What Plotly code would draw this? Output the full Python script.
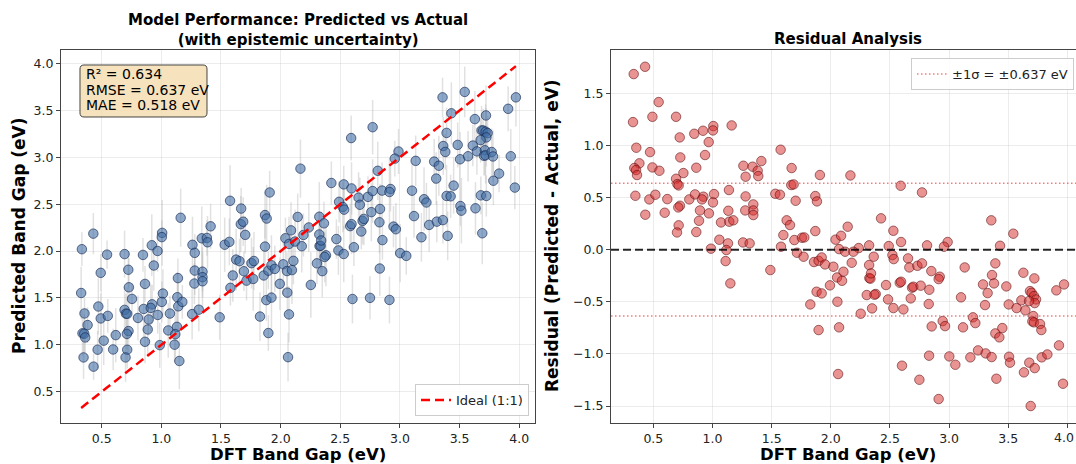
import plotly.graph_objects as go

# ---------------- data ----------------
dft_gap = [
    0.334, 0.430, 0.545, 0.328, 0.492, 0.692, 0.356, 0.472, 0.382, 0.339,
    0.354, 0.362, 0.492, 0.551, 0.348, 0.466, 0.517, 0.432, 0.618, 0.596,
    0.723, 0.728, 0.754, 0.692, 0.703, 0.714, 0.725, 0.711, 0.714, 0.700,
    0.804, 0.846, 0.920, 0.968, 0.937, 0.863, 0.852, 0.923, 0.911, 0.894,
    0.886, 0.863, 0.970, 1.007, 1.004, 1.013, 1.004, 1.058, 0.987, 1.072,
    1.162, 1.139, 1.134, 1.142, 1.176, 1.131, 1.261, 1.280, 1.280, 1.277,
    1.339, 1.382, 1.387, 1.413, 1.345, 1.345, 1.345, 1.258, 1.314, 1.531,
    1.570, 1.576, 1.669, 1.666, 1.686, 1.703, 1.627, 1.655, 1.599, 1.692,
    1.756, 1.776, 1.579, 1.869, 1.883, 1.908, 1.869, 2.040, 1.117, 1.111,
    1.151, 1.489, 1.714, 1.770, 1.858, 1.897, 1.923, 1.951, 1.993, 1.880,
    1.923, 1.827, 1.897, 2.166, 2.591, 2.771, 3.357, 3.543, 3.431, 2.425,
    2.143, 2.087, 2.529, 2.594, 2.324, 2.490, 2.236, 2.814, 2.988, 2.957,
    2.070, 2.121, 2.191, 2.521, 2.532, 2.022, 2.107, 2.177, 2.053, 2.095,
    2.056, 2.070, 2.062, 2.304, 2.380, 2.369, 2.326, 2.335, 2.324, 2.340,
    2.363, 2.349, 2.253, 2.467, 2.484, 2.529, 2.583, 2.594, 2.614, 2.653,
    2.664, 2.732, 2.771, 2.687, 2.698, 2.676, 2.760, 2.602, 2.749, 2.850,
    2.833, 2.828, 2.853, 2.831, 2.921, 2.912, 2.946, 2.966, 2.912, 3.002,
    3.053, 3.132, 3.101, 3.118, 3.180, 3.202, 3.222, 3.245, 3.287, 3.326,
    3.304, 3.309, 3.360, 3.363, 3.380, 3.391, 3.391, 3.425, 3.450, 3.400,
    3.484, 3.504, 3.507, 3.515, 3.571, 3.611, 3.628, 3.645, 3.633, 3.678,
    3.721, 3.684, 3.698, 3.718, 3.735, 3.724, 3.676, 3.712, 3.704, 3.718,
    3.769, 3.780, 3.724, 3.690, 3.783, 3.831, 3.929, 3.907, 3.972, 3.963,
]

residual = [
    1.686, 1.756, 1.417, 1.225, 1.276, 1.276, 0.979, 0.937, 0.829, 0.784,
    0.765, 0.717, 0.790, 0.758, 0.518, 0.483, 0.528, 0.336, 0.486, 0.355,
    1.078, 0.886, 0.736, 0.681, 0.630, 0.617, 0.422, 0.406, 0.234, 0.166,
    0.483, 1.113, 1.142, 1.033, 0.909, 0.787, 0.531, 0.509, 0.483, 0.377,
    0.278, 0.170, 0.349, 1.187, 1.145, 0.534, 0.454, 0.096, 0.010, 0.262,
    1.193, 0.573, 0.374, 0.269, 0.282, 0.061, 0.806, 0.701, 0.512, 0.377,
    0.797, 0.758, 0.707, 0.851, 0.435, 0.377, 0.333, 0.070, 0.061, 0.537,
    0.528, 0.960, 0.784, 0.621, 0.627, 0.470, 0.282, 0.237, 0.141, 0.093,
    0.115, 0.118, 0.029, 0.515, 0.464, 0.717, 0.179, 0.097, -0.003, -0.109,
    -0.323, -0.195, -0.029, -0.067, -0.118, -0.106, -0.074, -0.141, -0.342, -0.403,
    -0.419, -0.525, -0.771, 0.713, 0.614, 0.550, 0.282, 0.154, 0.038, 0.301,
    0.221, 0.134, 0.182, 0.074, 0.042, 0.035, 0.016, 0.042, 0.074, 0.029,
    0.006, -0.019, -0.019, -0.051, -0.090, -0.163, -0.211, -0.125, -0.266, -0.298,
    -0.499, -0.745, -1.193, -0.435, -0.425, -0.432, -0.272, -0.278, -0.147, -0.227,
    -0.067, -0.563, -0.614, -0.339, -0.477, -0.560, -0.317, -0.307, -0.573, -0.083,
    -0.170, -0.154, -0.131, -0.365, -0.355, -0.467, -0.345, -1.113, -1.248, -0.205,
    -0.384, -0.521, -0.736, -1.017, -0.259, -0.282, -0.685, -0.733, -1.433, -1.024,
    -1.104, -0.170, -0.457, -0.745, -1.033, -0.649, -0.704, -0.966, -0.333, -0.416,
    -0.531, -0.995, -1.030, -0.243, -0.323, -0.131, -0.803, -0.841, -0.752, -1.238,
    -0.352, -0.525, -1.027, -1.084, -0.560, -0.486, -0.221, -0.582, -1.177, -1.084,
    -0.275, -0.397, -0.413, -0.445, -0.477, -0.512, -0.493, -0.637, -0.688, -0.697,
    -0.713, -0.771, -1.136, -1.500, -1.033, -1.005, -0.918, -0.390, -0.333, -1.286,
]

uncertainty = [
    0.18, 0.22, 0.15, 0.28, 0.20, 0.25, 0.17, 0.30, 0.19, 0.24,
    0.21, 0.16, 0.27, 0.18, 0.23, 0.20, 0.26, 0.14, 0.29, 0.22,
    0.19, 0.31, 0.17, 0.25, 0.21, 0.28, 0.23, 0.16, 0.20, 0.26,
    0.24, 0.18, 0.33, 0.22, 0.27, 0.19, 0.30, 0.21, 0.25, 0.17,
    0.28, 0.23, 0.20, 0.35, 0.18, 0.26, 0.22, 0.29, 0.24, 0.19,
    0.31, 0.21, 0.27, 0.25, 0.18, 0.23, 0.30, 0.20, 0.26, 0.22,
    0.34, 0.19, 0.28, 0.24, 0.21, 0.32, 0.17, 0.27, 0.23, 0.29,
    0.25, 0.38, 0.22, 0.30, 0.26, 0.20, 0.33, 0.24, 0.28, 0.21,
    0.27, 0.31, 0.19, 0.25, 0.36, 0.23, 0.29, 0.22, 0.26, 0.18,
    0.30, 0.24, 0.21, 0.34, 0.27, 0.20, 0.32, 0.25, 0.28, 0.22,
    0.35, 0.26, 0.19, 0.31, 0.24, 0.29, 0.21, 0.27, 0.33, 0.23,
    0.25, 0.30, 0.20, 0.28, 0.37, 0.22, 0.26, 0.31, 0.24, 0.19,
    0.29, 0.34, 0.23, 0.27, 0.21, 0.32, 0.25, 0.28, 0.20, 0.36,
    0.24, 0.30, 0.26, 0.22, 0.33, 0.27, 0.19, 0.29, 0.25, 0.31,
    0.23, 0.28, 0.35, 0.21, 0.26, 0.30, 0.24, 0.32, 0.20, 0.27,
    0.29, 0.22, 0.34, 0.25, 0.28, 0.19, 0.31, 0.26, 0.23, 0.30,
    0.27, 0.33, 0.21, 0.29, 0.24, 0.36, 0.22, 0.28, 0.25, 0.31,
    0.20, 0.27, 0.30, 0.23, 0.26, 0.34, 0.21, 0.29, 0.24, 0.32,
    0.28, 0.22, 0.25, 0.31, 0.19, 0.27, 0.33, 0.23, 0.30, 0.26,
    0.24, 0.29, 0.21, 0.35, 0.27, 0.22, 0.30, 0.25, 0.28, 0.20,
    0.32, 0.26, 0.23, 0.29, 0.18, 0.31, 0.24, 0.27, 0.21, 0.30,
    0.25, 0.28, 0.22, 0.33, 0.26, 0.20, 0.29, 0.24, 0.31, 0.23,
]

r2_value = 0.634
rmse_value = 0.637
mae_value = 0.518

tick_vals = [0.5, 1.0, 1.5, 2.0, 2.5, 3.0, 3.5, 4.0]
resid_ticks = [-1.5, -1.0, -0.5, 0.0, 0.5, 1.0, 1.5]

predicted = [a + r for a, r in zip(dft_gap, residual)]

# ---------------- layout geometry ----------------
W, H = 1076, 464
FONT = "DejaVu Sans"
def fx(p):
    return p / W
def fy(p):
    return 1 - p / H

left_x_range = [0.159, 4.132]
left_y_range = [0.167, 4.144]
right_x_range = [0.142, 4.073]
right_y_range = [-1.663, 1.917]

fig = go.Figure()

# Left: predicted vs actual with uncertainty
fig.add_trace(go.Scatter(
    x=dft_gap, y=predicted, mode="markers",
    error_y=dict(type="data", array=uncertainty, color="rgba(175,175,175,0.38)",
                 thickness=1.5, width=0),
    marker=dict(size=9.5, color="rgba(65,110,165,0.6)",
                line=dict(width=0.8, color="rgba(20,40,80,0.8)")),
    showlegend=False, xaxis="x", yaxis="y",
))

lo = min(min(dft_gap), min(predicted))
hi = max(max(dft_gap), max(predicted))
fig.add_trace(go.Scatter(
    x=[lo, hi], y=[lo, hi], mode="lines", name="Ideal (1:1)",
    line=dict(color="red", width=2.5, dash="9px,5px"),
    xaxis="x", yaxis="y", legend="legend",
))

# Right: residuals
fig.add_trace(go.Scatter(
    x=dft_gap, y=residual, mode="markers",
    marker=dict(size=9.5, color="rgba(214,39,40,0.5)",
                line=dict(width=0.8, color="rgba(90,10,10,0.7)")),
    showlegend=False, xaxis="x2", yaxis="y2",
))

fig.add_trace(go.Scatter(
    x=[right_x_range[0], right_x_range[1], None, right_x_range[0], right_x_range[1]],
    y=[rmse_value, rmse_value, None, -rmse_value, -rmse_value],
    mode="lines", name=f"±1σ = ±{rmse_value:.3f} eV",
    line=dict(color="rgba(240,80,80,0.75)", width=1.5, dash="1.5px,2.5px"),
    xaxis="x2", yaxis="y2", legend="legend2",
))

fig.add_shape(type="line", xref="x2 domain", yref="y2", x0=0, x1=1, y0=0, y1=0,
              line=dict(color="rgba(0,0,0,0.85)", width=2, dash="8px,4px"), layer="above")

# Stats box with rounded corners (pixel geometry converted to paper coords)
bx0, by0, bx1, by1, rad = 80, 65, 207, 117, 4
def P(px, py):
    return f"{fx(px):.6f},{fy(py):.6f}"
box_path = (
    f"M {P(bx0 + rad, by0)} L {P(bx1 - rad, by0)} Q {P(bx1, by0)} {P(bx1, by0 + rad)} "
    f"L {P(bx1, by1 - rad)} Q {P(bx1, by1)} {P(bx1 - rad, by1)} "
    f"L {P(bx0 + rad, by1)} Q {P(bx0, by1)} {P(bx0, by1 - rad)} "
    f"L {P(bx0, by0 + rad)} Q {P(bx0, by0)} {P(bx0 + rad, by0)} Z"
)
fig.add_shape(type="path", xref="paper", yref="paper", path=box_path,
              fillcolor="rgba(245,222,179,0.85)", line=dict(color="#444", width=1),
              layer="above")

axis_common = dict(
    showline=True, linecolor="#444", linewidth=1.2,
    ticks="outside", ticklen=4, tickwidth=1, tickcolor="#444",
    showgrid=True, gridcolor="rgba(200,200,200,0.35)", gridwidth=1,
    zeroline=False, tickfont=dict(family=FONT, size=12.5, color="#222"),
    tickformat=".1f",
)

fig.update_layout(
    width=W, height=H, autosize=False,
    margin=dict(l=0, r=0, t=0, b=0),
    paper_bgcolor="white", plot_bgcolor="white",
    font=dict(family=FONT, color="#222"),
    xaxis=dict(domain=[fx(61), fx(535)], range=left_x_range, tickvals=tick_vals,
               mirror=True, anchor="y", **axis_common),
    yaxis=dict(domain=[fy(423), fy(50)], range=left_y_range, tickvals=tick_vals,
               mirror=True, anchor="x", **axis_common),
    xaxis2=dict(domain=[fx(611), 1.0], range=right_x_range, tickvals=tick_vals,
                mirror=True, anchor="y2", **axis_common),
    yaxis2=dict(domain=[fy(423), fy(50)], range=right_y_range, tickvals=resid_ticks,
                mirror=False, anchor="x2", **axis_common),
    legend=dict(x=fx(529), xanchor="right", y=fy(416), yanchor="bottom",
                bgcolor="rgba(255,255,255,0.85)", bordercolor="#ccc", borderwidth=1,
                font=dict(family=FONT, size=13, color="#222")),
    legend2=dict(x=fx(911), xanchor="left", y=fy(58), yanchor="top",
                 bgcolor="rgba(255,255,255,0.85)", bordercolor="#ccc", borderwidth=1,
                 font=dict(family=FONT, size=13, color="#222")),
)

stats_lines = [f"R² = {r2_value:.3f}", f"RMSE = {rmse_value:.3f} eV", f"MAE = {mae_value:.3f} eV"]
stats_y = [74, 90, 105]

annos = [
    dict(text="Model Performance: Predicted vs Actual<br>(with epistemic uncertainty)",
         x=fx(298), y=fy(30), xanchor="center", yanchor="middle",
         font=dict(family=FONT, size=15, color="black", weight="bold")),
    dict(text="Residual Analysis", x=fx(848), y=fy(39), xanchor="center", yanchor="middle",
         font=dict(family=FONT, size=15, color="black", weight="bold")),
    dict(text="DFT Band Gap (eV)", x=fx(298), y=fy(454), xanchor="center", yanchor="middle",
         font=dict(family=FONT, size=16.5, color="black", weight="bold")),
    dict(text="DFT Band Gap (eV)", x=fx(848), y=fy(454), xanchor="center", yanchor="middle",
         font=dict(family=FONT, size=16.5, color="black", weight="bold")),
    dict(text="Predicted Band Gap (eV)", x=fx(19), y=fy(236), xanchor="center", yanchor="middle",
         textangle=-90, font=dict(family=FONT, size=17, color="black", weight="bold")),
    dict(text="Residual (Predicted - Actual, eV)", x=fx(552), y=fy(236), xanchor="center",
         yanchor="middle", textangle=-90,
         font=dict(family=FONT, size=17, color="black", weight="bold")),
    # last x tick label of the residual panel, touching the right edge as in the reference
    dict(text=f"{tick_vals[-1]:.1f}", x=1.0, y=fy(437), xanchor="right", yanchor="middle",
         font=dict(family=FONT, size=12.5, color="#222")),
]
for line, yy in zip(stats_lines, stats_y):
    annos.append(dict(text=line, x=fx(84), y=fy(yy), xanchor="left", yanchor="middle",
                      align="left", font=dict(family=FONT, size=14, color="black")))
for a in annos:
    fig.add_annotation(xref="paper", yref="paper", showarrow=False, **a)

fig.write_html("out.html", config={"displayModeBar": False},
               post_script="document.body.style.margin='0';document.body.style.overflow='hidden';")
